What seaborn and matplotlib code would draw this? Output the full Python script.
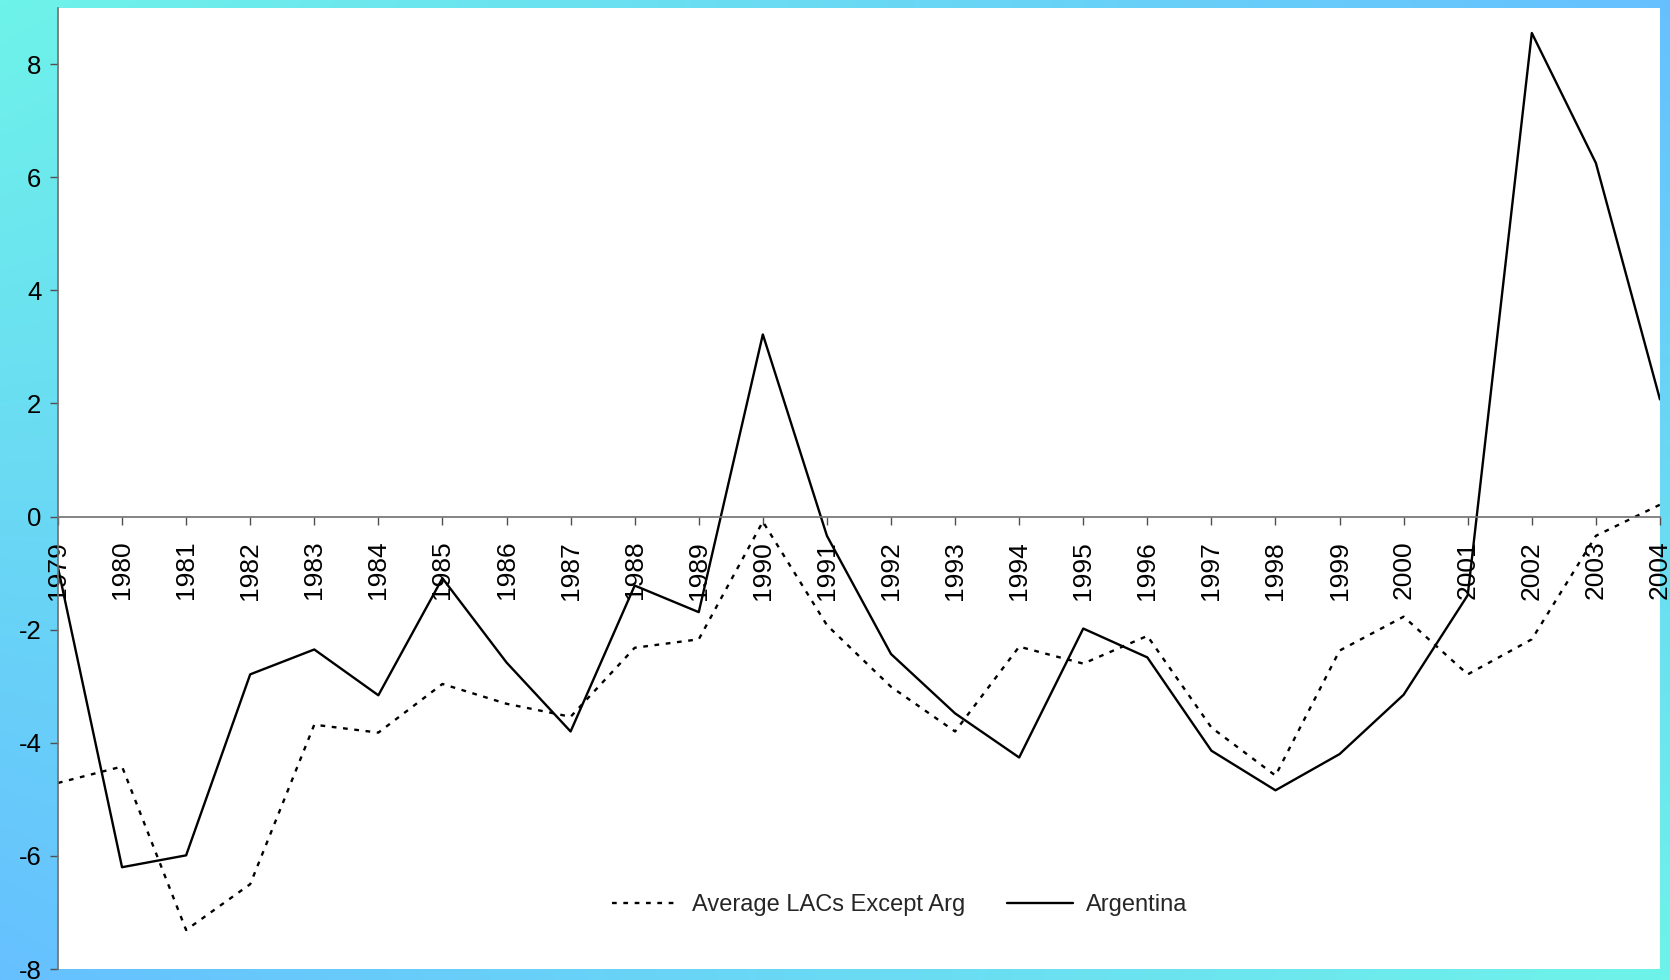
import numpy as np
import pandas as pd
import matplotlib
matplotlib.use("Agg")
import matplotlib.pyplot as plt
from matplotlib.colors import LinearSegmentedColormap
import seaborn as sns

# Data
years = list(range(1979, 2005))
lacs_avg = [-4.71, -4.42, -7.31, -6.50, -3.68, -3.82, -2.96, -3.31, -3.54, -2.32,
            -2.17, -0.09, -1.92, -3.01, -3.80, -2.30, -2.60, -2.11, -3.73, -4.58,
            -2.37, -1.77, -2.79, -2.17, -0.34, 0.21]
argentina = [-0.90, -6.20, -5.99, -2.79, -2.35, -3.16, -1.09, -2.58, -3.80, -1.22,
             -1.69, 3.22, -0.34, -2.43, -3.48, -4.26, -1.98, -2.49, -4.14, -4.84,
             -4.20, -3.15, -1.39, 8.55, 6.25, 2.07]
series_names = ["Average LACs Except Arg", "Argentina"]
y_ticks = [-8, -6, -4, -2, 0, 2, 4, 6, 8]

sns.set_theme(style="white")
plt.rcParams["font.family"] = ["Liberation Sans", "DejaVu Sans"]

fig = plt.figure(figsize=(16.7, 9.8), dpi=100)

# Bilinear cyan/blue gradient backdrop
bg = fig.add_axes([0, 0, 1, 1], zorder=0)
u = np.linspace(0, 1, 400)[None, :]
v = np.linspace(0, 1, 240)[:, None]
t = u * (1 - v) + v * (1 - u)
cmap = LinearSegmentedColormap.from_list("bgc", ["#6ef3e9", "#66c0ff"])
bg.imshow(t, cmap=cmap, aspect="auto", extent=[0, 1, 0, 1], origin="upper",
          vmin=0, vmax=1, interpolation="bilinear")
bg.set_axis_off()

ax = fig.add_axes([0.0347, 0.0112, 0.9593, 0.9811], zorder=1)
ax.set_facecolor("white")

df = pd.DataFrame({"year": years * 2,
                   "value": lacs_avg + argentina,
                   "series": [series_names[0]] * len(years) + [series_names[1]] * len(years)})

sns.lineplot(data=df[df.series == series_names[0]], x="year", y="value", ax=ax,
             color="black", lw=1.7, linestyle=(0, (2, 2.8)), label=series_names[0])
sns.lineplot(data=df[df.series == series_names[1]], x="year", y="value", ax=ax,
             color="black", lw=1.7, label=series_names[1])

ax.set_xlim(1979, 2004)
ax.set_ylim(-8, 9)
ax.set_xlabel("")
ax.set_ylabel("")

ax.spines["top"].set_visible(False)
ax.spines["right"].set_visible(False)
ax.spines["bottom"].set_position(("data", 0))
for side in ("left", "bottom"):
    ax.spines[side].set_color("#707070")
    ax.spines[side].set_linewidth(1.2)

ax.set_xticks(years)
ax.set_xticklabels([str(y) for y in years], rotation=90, va="top", ha="center")
ax.set_yticks(y_ticks)
ax.set_yticklabels([str(y) for y in y_ticks])
ax.tick_params(axis="x", direction="out", length=5.5, width=1.0, color="#505050",
               labelsize=19, pad=12, bottom=True)
ax.tick_params(axis="y", direction="out", length=6, width=1.0, color="#505050",
               labelsize=18.5, pad=6, left=True)
for lab in ax.get_xticklabels() + ax.get_yticklabels():
    lab.set_color("black")

ax.legend(loc="center", bbox_to_anchor=(0.539, 0.0765), bbox_transform=fig.transFigure,
          ncol=2, frameon=False, fontsize=17, handlelength=2.8, handletextpad=0.55,
          columnspacing=1.8)

fig.savefig("out.png", dpi=100)
